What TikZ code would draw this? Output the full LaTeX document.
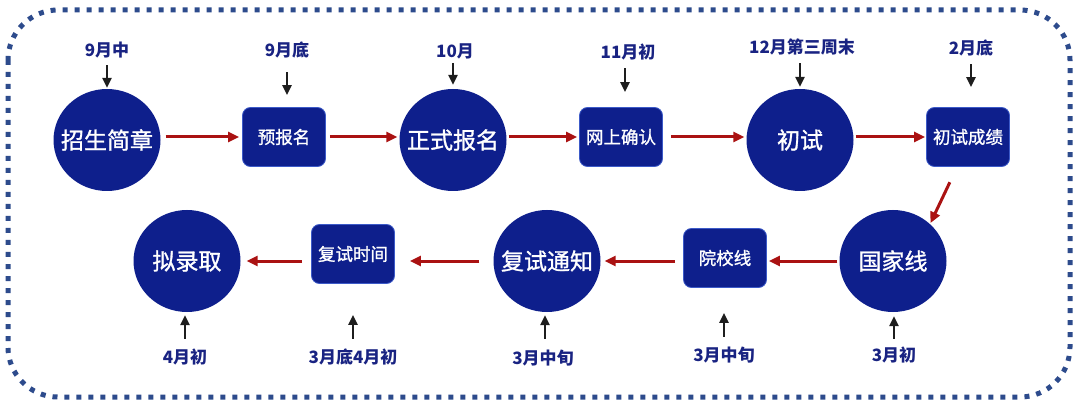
\documentclass[tikz,border=0pt]{standalone}
\usepackage{fontspec}
\setmainfont{Noto Sans CJK SC}
\newfontfamily\medfont[FakeBold=1.2]{Noto Sans CJK SC}
\usetikzlibrary{arrows.meta,shapes.geometric}
\definecolor{navy}{RGB}{14,31,140}
\definecolor{boxline}{RGB}{60,90,200}
\definecolor{lblblue}{RGB}{25,35,130}
\definecolor{arrred}{RGB}{170,18,18}
\definecolor{blk}{RGB}{30,30,30}
\definecolor{bordercol}{RGB}{45,75,140}
\begin{document}
\begin{tikzpicture}[x=1pt,y=-1pt,
  circ/.style={ellipse,fill=navy,minimum width=107pt,minimum height=102pt,inner sep=0pt,text=white,font=\medfont\fontsize{23}{23}\selectfont},
  boxn/.style={rectangle,rounded corners=8pt,fill=navy,draw=boxline,line width=0.8pt,minimum width=83pt,minimum height=59pt,inner sep=0pt,text=white,font=\medfont\fontsize{17.5}{17.5}\selectfont},
  lbl/.style={text=lblblue,font=\bfseries\fontsize{17}{17}\selectfont,inner sep=0pt},
  redarrow/.style={draw=arrred,line width=3pt,-{Triangle[length=11pt,width=10pt]}},
  blkarrow/.style={draw=blk,line width=2.8pt,-{Triangle[length=10pt,width=9pt]}}]
\useasboundingbox (0,0) rectangle (1079,406);
\draw[bordercol,line width=5pt,dash pattern=on 5pt off 7pt,rounded corners=50pt] (8,10) rectangle (1070,397);

% row 1
\node[circ] (c1) at (107,140) {\makebox[0pt]{招生简章}};
\node[boxn] (b1) at (284,137) {预报名};
\node[circ] (c2) at (453,140) {\makebox[0pt]{正式报名}};
\node[boxn] (b2) at (621,137) {网上确认};
\node[circ] (c3) at (800,140) {\makebox[0pt]{初试}};
\node[boxn] (b3) at (968,137) {初试成绩};
% row 2
\node[circ] (c4) at (893,261) {\makebox[0pt]{国家线}};
\node[boxn] (b4) at (725,258) {院校线};
\node[circ] (c5) at (547,261) {\makebox[0pt]{复试通知}};
\node[boxn] (b5) at (353,254) {复试时间};
\node[circ] (c6) at (187,261) {\makebox[0pt]{拟录取}};

% red flow arrows
\draw[redarrow,shorten <=5pt,shorten >=3pt] (b1.west -| c1.east) -- (b1.west);
\draw[redarrow,shorten <=4pt,shorten >=2pt] (b1.east) -- (b1.east -| c2.west);
\draw[redarrow,shorten <=2pt,shorten >=2pt] (b2.west -| c2.east) -- (b2.west);
\draw[redarrow,shorten <=8pt,shorten >=2pt] (b2.east) -- (b2.east -| c3.west);
\draw[redarrow,shorten <=2pt,shorten >=1pt] (b3.west -| c3.east) -- (b3.west);
\draw[redarrow,shorten <=17pt,shorten >=1pt] (b3.250) -- (c4.45);
\draw[redarrow,shorten <=2pt,shorten >=2pt] (c4.west) -- (c4.west -| b4.east);
\draw[redarrow,shorten <=8pt,shorten >=4pt] (b4.west |- c5.east) -- (c5.east);
\draw[redarrow,shorten <=14pt,shorten >=15pt] (c5.west) -- (c5.west -| b5.east);
\draw[redarrow,shorten <=9pt,shorten >=6pt] (b5.west |- c6.east) -- (c6.east);

% top labels
\node[lbl] (t1) at (107,50) {9月中};
\node[lbl] (t2) at (287,50) {9月底};
\node[lbl] (t3) at (455,51) {10月};
\node[lbl] (t4) at (628,52) {11月初};
\node[lbl] (t5) at (802,47) {12月第三周末};
\node[lbl] (t6) at (971,48) {2月底};
\draw[blkarrow,shorten <=7pt,shorten >=1pt] (t1.south) -- (t1.south |- c1.north);
\draw[blkarrow,shorten <=14pt,shorten >=12pt] (t2.south) -- (t2.south |- b1.north);
\draw[blkarrow,shorten <=4pt,shorten >=4pt] ([xshift=-2pt]t3.south) -- ([xshift=-2pt]t3.south |- c2.north);
\draw[blkarrow,shorten <=8pt,shorten >=15pt] ([xshift=-3pt]t4.south) -- ([xshift=-3pt]t4.south |- b2.north);
\draw[blkarrow,shorten <=8pt,shorten >=2pt] ([xshift=-2pt]t5.south) -- ([xshift=-2pt]t5.south |- c3.north);
\draw[blkarrow,shorten <=8pt,shorten >=20pt] (t6.south) -- (t6.south |- b3.north);

% bottom labels
\node[lbl] (u1) at (185,357) {4月初};
\node[lbl] (u2) at (353,357) {3月底4月初};
\node[lbl] (u3) at (543,358) {3月中旬};
\node[lbl] (u4) at (724,355) {3月中旬};
\node[lbl] (u5) at (894,355) {3月初};
\draw[blkarrow,shorten <=10pt,shorten >=3pt] (u1.north) -- (u1.north |- c6.south);
\draw[blkarrow,shorten <=10pt,shorten >=31pt] (u2.north) -- (u2.north |- b5.south);
\draw[blkarrow,shorten <=11pt,shorten >=3pt] ([xshift=2pt]u3.north) -- ([xshift=2pt]u3.north |- c5.south);
\draw[blkarrow,shorten <=10pt,shorten >=25pt] (u4.north) -- (u4.north |- b4.south);
\draw[blkarrow,shorten <=8pt,shorten >=4pt] (u5.north) -- (u5.north |- c4.south);
\end{tikzpicture}
\end{document}
